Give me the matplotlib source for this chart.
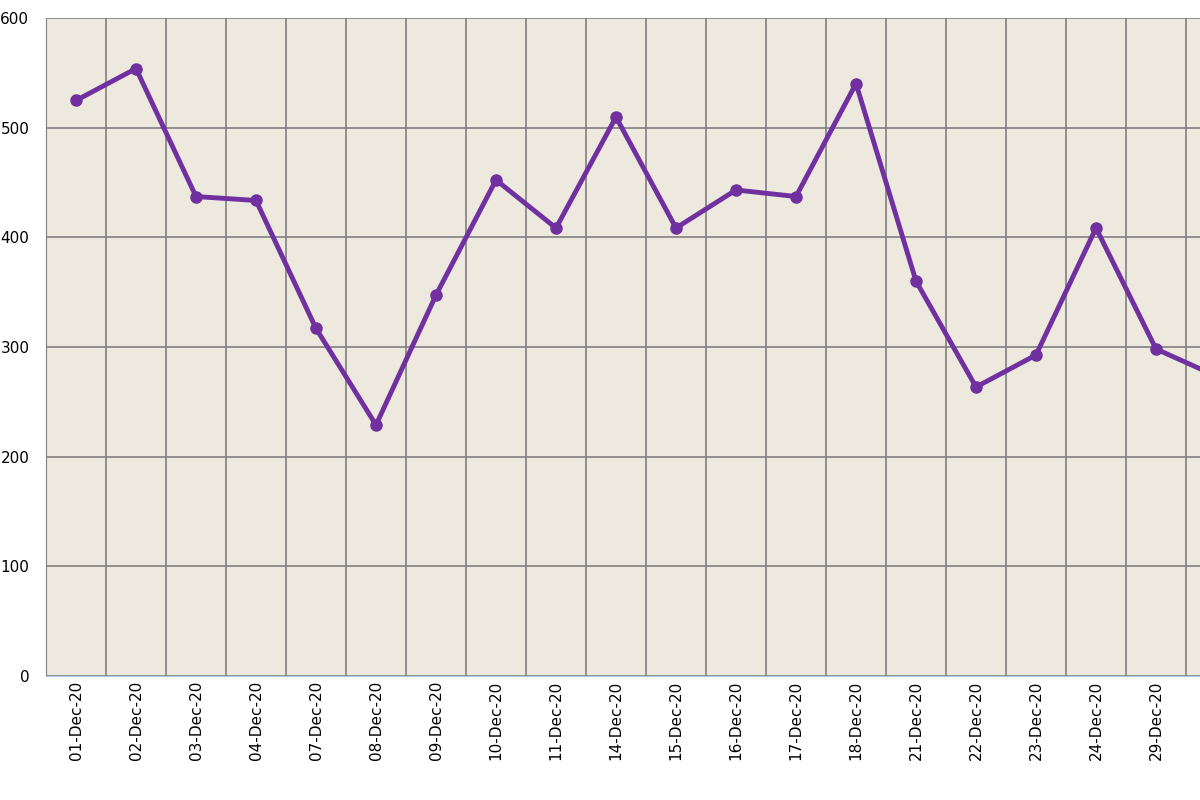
import matplotlib
matplotlib.use("Agg")
import matplotlib.pyplot as plt

dates = ["01-Dec-20","02-Dec-20","03-Dec-20","04-Dec-20","07-Dec-20","08-Dec-20","09-Dec-20",
         "10-Dec-20","11-Dec-20","14-Dec-20","15-Dec-20","16-Dec-20","17-Dec-20","18-Dec-20",
         "21-Dec-20","22-Dec-20","23-Dec-20","24-Dec-20","29-Dec-20","30-Dec-20"]
values = [524.8,553.9,437.2,433.6,316.9,228.9,347.4,452.3,408.5,509.7,408.5,443.2,437.2,540.2,
          360.1,263.5,292.7,408.5,298.2,273.6]
yticks = [0,100,200,300,400,500,600]

fig = plt.figure(figsize=(12,8), dpi=100)
W = 1200; H = 800
left = 46/W; bottom = (H-676)/H
ax = fig.add_axes([left, bottom, 20*60/W, (676-18)/H])
ax.set_facecolor("#ede9df")
x = list(range(len(dates)))
ax.plot(x, values, color="#7030a0", lw=3.5, marker="o", ms=8, zorder=3)
ax.set_xlim(-0.5, len(dates)-0.5)
ax.set_ylim(0, 600)
ax.set_yticks(yticks)
ax.set_yticklabels([str(v) for v in yticks], fontsize=11)
ax.set_xticks(x)
ax.set_xticklabels(dates, rotation=90, fontsize=11)
ax.set_xticks([i-0.5 for i in range(len(dates)+1)], minor=True)
ax.grid(True, which="minor", axis="x", color="#808080", lw=1.2)
ax.grid(True, which="major", axis="y", color="#808080", lw=1.2)
ax.tick_params(axis="both", which="both", length=0)
ax.tick_params(axis="y", pad=12)
for s in ["top","right"]:
    ax.spines[s].set_visible(False)
ax.spines["left"].set_color("#808080")
ax.spines["bottom"].set_color("#a8c8e8")
fig.savefig("out.png", dpi=100)
